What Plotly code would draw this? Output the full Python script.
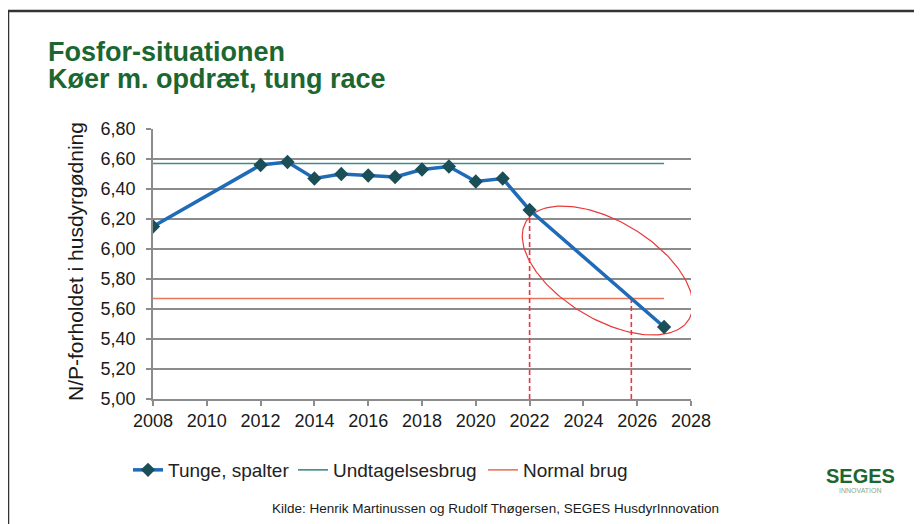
import numpy as np
import plotly.graph_objects as go

# ---- data ----
years = [2008, 2012, 2013, 2014, 2015, 2016, 2017, 2018, 2019, 2020, 2021, 2022, 2027]
tunge_spalter = [6.15, 6.56, 6.58, 6.47, 6.50, 6.49, 6.48, 6.53, 6.55, 6.45, 6.47, 6.26, 5.48]
ref_years = [2008, 2027]
undtagelsesbrug = [6.57, 6.57]
normal_brug = [5.67, 5.67]
y_ticks = [5.0, 5.2, 5.4, 5.6, 5.8, 6.0, 6.2, 6.4, 6.6, 6.8]
x_ticks = list(range(2008, 2029, 2))

# ---- layout geometry (page pixels; the page body has an 8px margin) ----
OFF = 8
PW, PH = 922, 524
W, H = PW - OFF, PH - OFF
plot_left, plot_right, plot_top, plot_bottom = 153, 691, 129, 399
L, R, T, B = plot_left - OFF, PW - plot_right, plot_top - OFF, PH - plot_bottom
pw, ph = plot_right - plot_left, plot_bottom - plot_top
xr = [2008, 2028]
yr = [5.0, 6.8]
ppx = pw / (xr[1] - xr[0])   # px per year
ppy = ph / (yr[1] - yr[0])   # px per unit


def px(xpix):
    return (xpix - plot_left) / pw


def py(ypix):
    return (plot_bottom - ypix) / ph


fig = go.Figure()

fig.add_trace(go.Scatter(
    x=years, y=tunge_spalter, mode="lines+markers", name="Tunge, spalter",
    legend="legend",
    line=dict(color="#1f6bb8", width=3.5),
    marker=dict(symbol="diamond", size=11, color="#1b4f57")))
fig.add_trace(go.Scatter(
    x=ref_years, y=undtagelsesbrug, mode="lines", name="Undtagelsesbrug",
    legend="legend2",
    line=dict(color="#3f8a8a", width=1.6)))
fig.add_trace(go.Scatter(
    x=ref_years, y=normal_brug, mode="lines", name="Normal brug",
    legend="legend3",
    line=dict(color="#e8765a", width=1.6)))

# red dashed drop lines: at 2022 and where the series crosses "Normal brug"
x0, y0 = years[-2], tunge_spalter[-2]
x1, y1 = years[-1], tunge_spalter[-1]
x_cross = x0 + (normal_brug[0] - y0) * (x1 - x0) / (y1 - y0)
for xv, ytop in [(x0, y0 - 0.04), (x_cross, normal_brug[0])]:
    fig.add_trace(go.Scatter(
        x=[xv, xv], y=[yr[0], ytop], mode="lines", showlegend=False, hoverinfo="skip",
        line=dict(color="#ea3540", width=1.6, dash="5px,3px")))

# ellipse highlight
cxp, cyp, a, b, th = 607.5, 270.5, 95, 49, np.deg2rad(31)
t = np.linspace(0, 2 * np.pi, 200)
dx = a * np.cos(t) * np.cos(th) - b * np.sin(t) * np.sin(th)
dy = a * np.cos(t) * np.sin(th) + b * np.sin(t) * np.cos(th)
ex = xr[0] + (cxp - plot_left + dx) / ppx
ey = yr[0] + (plot_bottom - cyp - dy) / ppy
fig.add_trace(go.Scatter(
    x=ex, y=ey, mode="lines", showlegend=False, hoverinfo="skip",
    line=dict(color="#e83a3a", width=1.2)))

# put the main series on top
fig.data = fig.data[1:] + (fig.data[0],)

leg_common = dict(orientation="h", xanchor="left", yanchor="middle", y=py(470),
                  font=dict(size=19, color="#222"), itemwidth=30,
                  bgcolor="rgba(0,0,0,0)")

fig.update_layout(
    width=W, height=H,
    margin=dict(l=L, r=R, t=T, b=B, autoexpand=False),
    paper_bgcolor="white", plot_bgcolor="white",
    separators=",.",
    font=dict(family="Liberation Sans, Arial, sans-serif", color="#1a1a1a", size=16),
    showlegend=True,
    legend=dict(x=px(128), **leg_common),
    legend2=dict(x=px(293), **leg_common),
    legend3=dict(x=px(483), **leg_common),
    xaxis=dict(range=xr, tickvals=x_ticks, showgrid=False, zeroline=False,
               showline=True, linecolor="#8c8c8c", linewidth=1.5,
               ticks="outside", ticklen=5, tickcolor="#8c8c8c", tickwidth=1.5,
               tickfont=dict(size=18, color="#1a1a1a"), fixedrange=True),
    yaxis=dict(range=yr, tickvals=y_ticks, tickformat=".2f", showgrid=True,
               gridcolor="#8c8c8c", gridwidth=1.5, zeroline=False,
               showline=True, linecolor="#8c8c8c", linewidth=1.5,
               ticks="outside", ticklen=5, tickcolor="#8c8c8c", tickwidth=1.5,
               ticklabelstandoff=7,
               tickfont=dict(size=18, color="#1a1a1a"), fixedrange=True),
)

title_html = ("<b><span style='font-size:27px'>Fosfor-situationen</span></b><br>"
              "<b><span style='font-size:27px'>Køer m. opdræt, tung race</span></b>")

annots = [
    dict(text=title_html, x=px(46), y=py(66), xanchor="left", yanchor="middle", align="left",
         font=dict(size=21, color="#1c6630")),
    dict(text="N/P-forholdet i husdyrgødning", x=px(75), y=py(262), textangle=-90,
         xanchor="center", yanchor="middle", font=dict(size=21, color="#1a1a1a")),
    dict(text="Kilde: Henrik Martinussen og Rudolf Thøgersen, SEGES HusdyrInnovation",
         x=px(495), y=py(508), xanchor="center", yanchor="middle",
         font=dict(size=13.5, color="#1a1a1a")),
    dict(text="<b>SEGES</b>", x=px(860), y=py(476), xanchor="center", yanchor="middle",
         font=dict(size=20, color="#1c6630", family="Liberation Sans Narrow, Liberation Sans, Arial")),
    dict(text="INNOVATION", x=px(860), y=py(490), xanchor="center", yanchor="middle",
         font=dict(size=7, color="#8aa892")),
]
for an in annots:
    fig.add_annotation(xref="paper", yref="paper", showarrow=False, **an)

# slide frame (top and left edges)
fig.add_shape(type="line", xref="paper", yref="paper", x0=px(8), x1=px(PW + 5), y0=py(11), y1=py(11),
              line=dict(color="#333", width=2.5))
fig.add_shape(type="line", xref="paper", yref="paper", x0=px(8), x1=px(8), y0=py(11), y1=py(PH + 5),
              line=dict(color="#333", width=2.5))

fig.write_html("out.html")
